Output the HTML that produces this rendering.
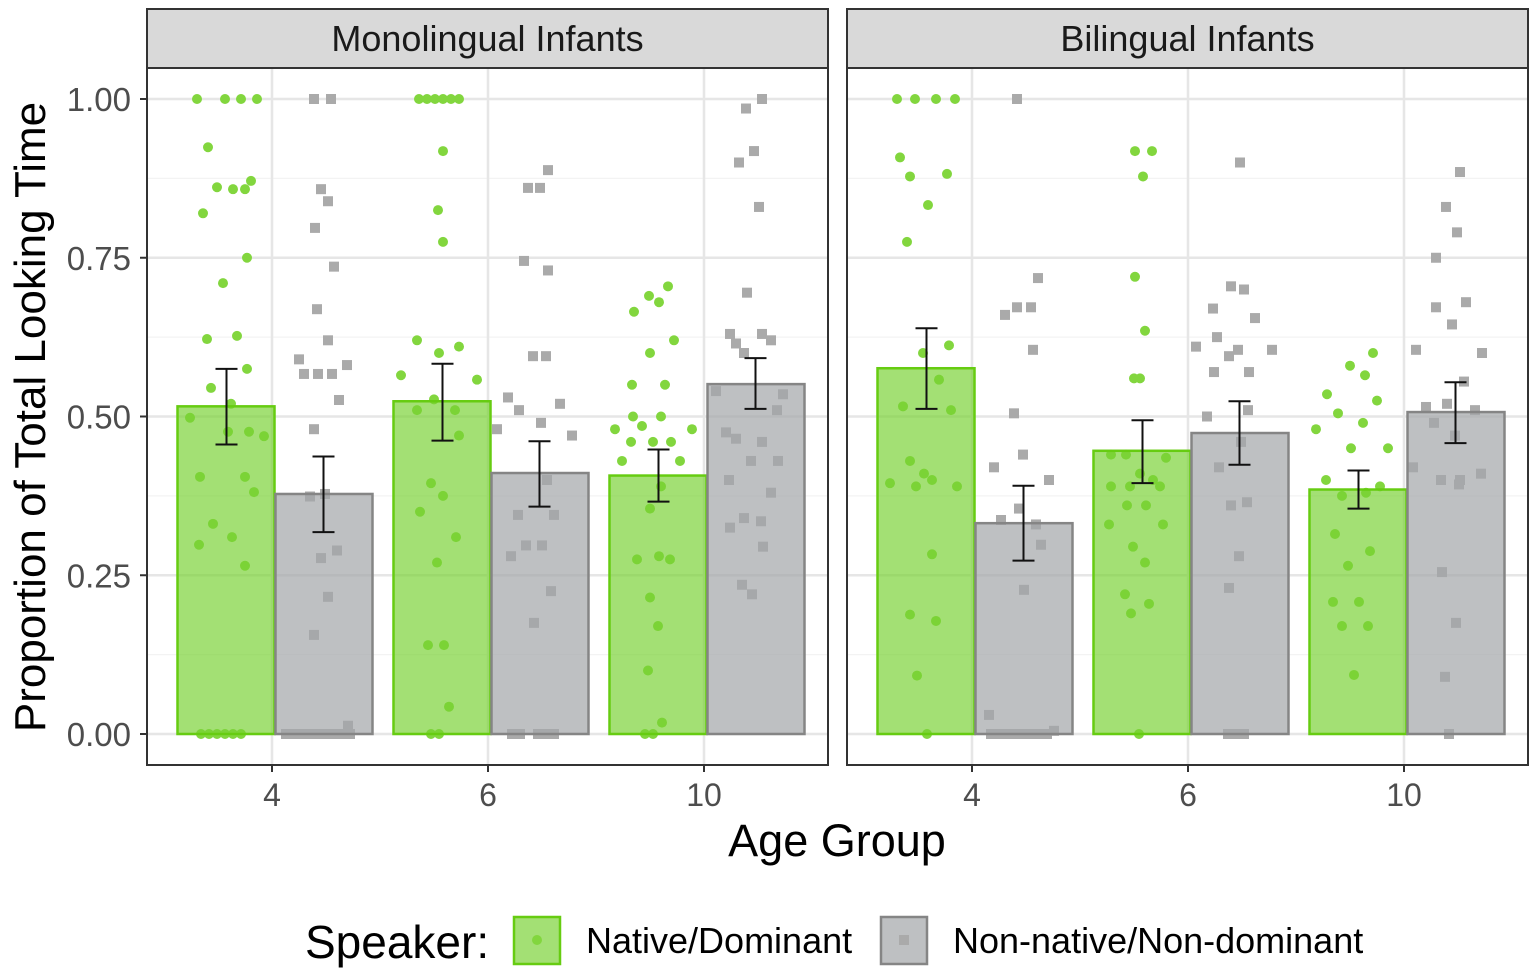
<!DOCTYPE html>
<html><head><meta charset="utf-8"><style>
html,body{margin:0;padding:0;background:#fff;}
svg{display:block;font-family:"Liberation Sans",sans-serif;}
</style></head><body>
<svg id="chart" width="1535" height="978" viewBox="0 0 1535 978"></svg>
<script>
const panels = ["Monolingual Infants","Bilingual Infants"];
const ages = ["4","6","10"];
const yTicks = [0,0.25,0.5,0.75,1];
const yTickLabels = ["0.00","0.25","0.50","0.75","1.00"];
// bar means [panel][age]
const nativeMeans = [[0.516,0.524,0.407],[0.576,0.446,0.385]];
const nonnativeMeans = [[0.378,0.411,0.551],[0.332,0.474,0.507]];
const nativeErrHi = [[0.575,0.583,0.448],[0.639,0.494,0.415]];
const nativeErrLo = [[0.456,0.462,0.366],[0.512,0.395,0.355]];
const nonnativeErrHi = [[0.437,0.461,0.592],[0.391,0.524,0.554]];
const nonnativeErrLo = [[0.318,0.358,0.512],[0.273,0.424,0.458]];
// individual points: [jitterPx, value]
const nativePts = [
[[[-75,1],[-47,1],[-31,1],[-15,1],[-64,.924],[-55,.861],[-27,.858],[-39,.858],[-21,.871],[-69,.82],[-49,.71],[-25,.75],[-65,.622],[-35,.627],[-25,.575],[-61,.545],[-41,.52],[-82,.498],[-8,.469],[-44,.476],[-23,.476],[-72,.405],[-59,.331],[-27,.405],[-18,.381],[-73,.298],[-40,.31],[-27,.265],[-71,0],[-63,0],[-55,0],[-47,0],[-39,0],[-31,0]],
 [[-57,0],[-49,0],[-69,1],[-61,1],[-53,1],[-45,1],[-37,1],[-29,1],[-45,.918],[-50,.825],[-45,.775],[-71,.62],[-29,.61],[-49,.6],[-87,.565],[-11,.558],[-71,.51],[-33,.51],[-54,.527],[-29,.47],[-57,.395],[-45,.375],[-68,.35],[-32,.31],[-51,.27],[-60,.14],[-44,.14],[-39,.043]],
 [[-59,0],[-51,0],[-36,.705],[-55,.69],[-45,.68],[-70,.665],[-30,.62],[-54,.6],[-72,.55],[-39,.55],[-71,.5],[-43,.5],[-89,.48],[-12,.48],[-62,.485],[-73,.46],[-51,.46],[-33,.46],[-82,.43],[-24,.43],[-43,.39],[-54,.355],[-45,.28],[-67,.275],[-34,.275],[-54,.215],[-46,.17],[-56,.1],[-42,.018]]],
[[[-75,1],[-57,1],[-36,1],[-17,1],[-72,.908],[-62,.878],[-25,.882],[-44,.833],[-65,.775],[-23,.612],[-49,.6],[-33,.558],[-69,.516],[-21,.51],[-62,.43],[-48,.41],[-82,.395],[-56,.39],[-40,.4],[-15,.39],[-40,.283],[-62,.188],[-36,.178],[-55,.092],[-45,0]],
 [[-49,0],[-53,.918],[-36,.918],[-45,.878],[-53,.72],[-43,.635],[-54,.56],[-48,.56],[-77,.44],[-62,.44],[-22,.435],[-48,.41],[-35,.4],[-77,.39],[-58,.39],[-28,.39],[-61,.36],[-42,.36],[-79,.33],[-25,.33],[-55,.295],[-43,.27],[-63,.22],[-39,.205],[-57,.19]],
 [[-31,.6],[-54,.58],[-39,.565],[-77,.535],[-27,.525],[-66,.505],[-88,.48],[-41,.49],[-16,.45],[-53,.45],[-78,.4],[-24,.39],[-62,.375],[-38,.38],[-69,.315],[-34,.288],[-56,.265],[-71,.208],[-45,.208],[-62,.17],[-36,.17],[-50,.093]]]
];
const nonnativePts = [
[[[42,1],[59,1],[49,.858],[56,.839],[43,.797],[62,.736],[45,.669],[56,.62],[27,.59],[32,.567],[46,.567],[60,.567],[75,.581],[67,.526],[42,.48],[38,.374],[53,.378],[65,.289],[49,.277],[56,.216],[42,.156],[14,0],[22,0],[30,0],[38,0],[46,0],[54,0],[62,0],[70,0],[78,0],[76,.013]],
 [[24,0],[32,0],[50,0],[58,0],[66,0],[60,.888],[40,.86],[52,.86],[36,.745],[60,.73],[45,.595],[58,.595],[20,.53],[31,.51],[72,.52],[9,.48],[84,.47],[53,.49],[59,.4],[30,.345],[66,.345],[38,.297],[54,.297],[23,.28],[63,.225],[46,.175]],
 [[58,1],[42,.985],[50,.918],[35,.9],[55,.83],[43,.695],[26,.63],[58,.63],[32,.615],[67,.62],[40,.6],[12,.54],[79,.535],[73,.51],[22,.475],[32,.465],[58,.46],[47,.43],[74,.43],[25,.4],[67,.38],[40,.34],[57,.335],[26,.325],[59,.295],[38,.235],[48,.22]]],
[[[45,1],[66,.718],[45,.672],[59,.672],[33,.66],[61,.605],[42,.505],[51,.44],[22,.42],[77,.4],[29,.337],[47,.355],[64,.33],[69,.298],[52,.227],[17,.03],[19,0],[27,0],[35,0],[43,0],[51,0],[59,0],[67,0],[75,0],[82,.005]],
 [[52,.9],[43,.705],[56,.7],[25,.67],[67,.655],[29,.625],[8,.61],[50,.605],[84,.605],[41,.595],[26,.57],[61,.57],[19,.5],[53,.46],[60,.51],[31,.42],[43,.36],[59,.365],[51,.28],[41,.23],[40,0],[48,0],[56,0]],
 [[56,.885],[42,.83],[53,.79],[32,.75],[62,.68],[32,.672],[48,.645],[12,.605],[78,.6],[60,.555],[71,.51],[43,.52],[22,.515],[30,.49],[51,.47],[9,.42],[77,.41],[37,.4],[56,.4],[55,.393],[38,.255],[52,.175],[41,.09],[45,0]]]
];

const NS="http://www.w3.org/2000/svg";
const svg=document.getElementById('chart');
function mk(tag,attrs,parent){const e=document.createElementNS(NS,tag);for(const k in attrs)e.setAttribute(k,attrs[k]);(parent||svg).appendChild(e);return e;}
const panelX=[147,847], panelW=681, plotTop=68, plotBot=765;
const yScale=v=>734-v*635;
const xScale=(p,i)=>panelX[p]+125+i*216;
const jit=3;
const barW=97;

panels.forEach((pname,p)=>{
  const g=mk('g',{});
  
  
  const x0=panelX[p];
  mk('rect',{x:x0,y:plotTop,width:panelW,height:plotBot-plotTop,fill:'#fff'},g);
  [0.125,0.375,0.625,0.875].forEach(v=>mk('line',{x1:x0,x2:x0+panelW,y1:yScale(v),y2:yScale(v),stroke:'#f3f3f3','stroke-width':1.2},g));
  yTicks.forEach(v=>mk('line',{x1:x0,x2:x0+panelW,y1:yScale(v),y2:yScale(v),stroke:'#e6e6e6','stroke-width':2.5},g));
  ages.forEach((a,i)=>mk('line',{x1:xScale(p,i),x2:xScale(p,i),y1:plotTop,y2:plotBot,stroke:'#e6e6e6','stroke-width':2.5},g));
  ages.forEach((a,i)=>{
    const c=xScale(p,i);
    const bc=c+jit;
    nativePts[p][i].forEach(d=>{
      const e=mk('circle',{cx:c+d[0],cy:yScale(d[1]),r:5,fill:'#82d63e'},g);
      
      
    });
    nonnativePts[p][i].forEach(d=>{
      const e=mk('rect',{x:c+d[0]-5,y:yScale(d[1])-5,width:10,height:10,fill:'#aaaaaa'},g);
      
      
    });
    const b1=mk('rect',{x:bc-barW-0.5,y:yScale(nativeMeans[p][i]),width:barW,height:yScale(0)-yScale(nativeMeans[p][i]),fill:'rgba(120,210,50,0.68)',stroke:'#66cc11','stroke-width':2.5},g);
    
    
    const b2=mk('rect',{x:bc+0.5,y:yScale(nonnativeMeans[p][i]),width:barW,height:yScale(0)-yScale(nonnativeMeans[p][i]),fill:'rgba(165,168,170,0.72)',stroke:'#858585','stroke-width':2.5},g);
    
    
    [[bc-barW/2,nativeErrLo[p][i],nativeErrHi[p][i]],[bc+barW/2,nonnativeErrLo[p][i],nonnativeErrHi[p][i]]].forEach(eb=>{
      const eg=mk('g',{stroke:'#111','stroke-width':2,fill:'none'},g);
      
      
      mk('line',{x1:eb[0],x2:eb[0],y1:yScale(eb[1]),y2:yScale(eb[2])},eg);
      mk('line',{x1:eb[0]-11,x2:eb[0]+11,y1:yScale(eb[1]),y2:yScale(eb[1])},eg);
      mk('line',{x1:eb[0]-11,x2:eb[0]+11,y1:yScale(eb[2]),y2:yScale(eb[2])},eg);
    });
    mk('line',{x1:c,x2:c,y1:plotBot,y2:plotBot+7,stroke:'#333','stroke-width':2},g);
    const t=mk('text',{x:c,y:806,'text-anchor':'middle','font-size':32,fill:'#4d4d4d'},g);
    t.textContent=a;
    
    
  });
  mk('rect',{x:x0,y:plotTop,width:panelW,height:plotBot-plotTop,fill:'none',stroke:'#333','stroke-width':2},g);
  const s=mk('rect',{x:x0,y:9,width:panelW,height:59,fill:'#d9d9d9',stroke:'#333','stroke-width':2},g);
  
  
  const st=mk('text',{x:x0+panelW/2,y:51,'text-anchor':'middle','font-size':36,fill:'#1a1a1a'},g);
  st.textContent=pname;
  
  
});
yTicks.forEach((v,k)=>{
  mk('line',{x1:140,x2:147,y1:yScale(v),y2:yScale(v),stroke:'#333','stroke-width':2});
  const t=mk('text',{x:131,y:yScale(v)+12,'text-anchor':'end','font-size':33,fill:'#4d4d4d'});
  t.textContent=yTickLabels[k];
  
  
});
const yt=mk('text',{x:0,y:0,'text-anchor':'middle','font-size':44,fill:'#000',transform:'translate(45,417) rotate(-90)'});
yt.textContent='Proportion of Total Looking Time';


const xt=mk('text',{x:837,y:856,'text-anchor':'middle','font-size':45,fill:'#000'});
xt.textContent='Age Group';


const lg=mk('g',{});


const lt=mk('text',{x:305,y:958,'font-size':46,fill:'#000'},lg);
lt.textContent='Speaker:';
const k1=mk('rect',{x:514,y:917,width:46,height:47,fill:'rgba(120,210,50,0.68)',stroke:'#66cc11','stroke-width':2.5},lg);


mk('circle',{cx:537,cy:940,r:5,fill:'#82d63e'},lg);
const l1=mk('text',{x:586,y:953,'font-size':36,fill:'#000'},lg);
l1.textContent='Native/Dominant';
const k2=mk('rect',{x:881,y:917,width:46,height:47,fill:'rgba(165,168,170,0.72)',stroke:'#858585','stroke-width':2.5},lg);


mk('rect',{x:899,y:935,width:10,height:10,fill:'#aaaaaa'},lg);
const l2=mk('text',{x:953,y:953,'font-size':36,fill:'#000'},lg);
l2.textContent='Non-native/Non-dominant';
</script>
</body></html>
